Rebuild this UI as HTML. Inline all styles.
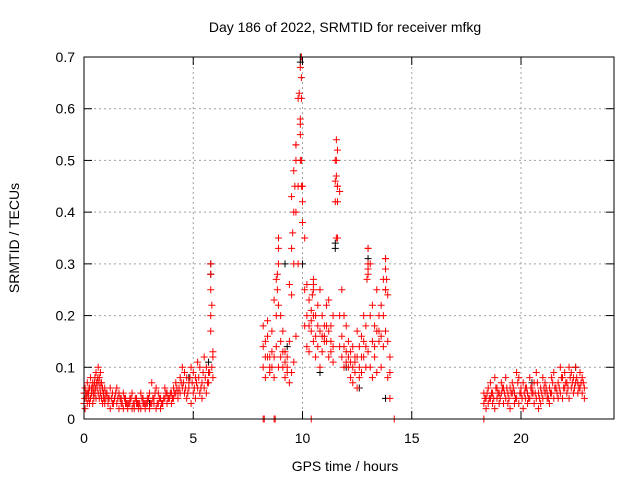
<!DOCTYPE html>
<html><head><meta charset="utf-8"><style>
body{margin:0;background:#fff}
svg{display:block;font-family:"Liberation Sans",sans-serif}
</style></head><body>
<svg id="chart" width="640" height="480">
<rect width="640" height="480" fill="#fff"/>
<text x="345" y="32" font-size="14" text-anchor="middle">Day 186 of 2022, SRMTID for receiver mfkg</text>
<text x="345" y="471" font-size="14" text-anchor="middle">GPS time / hours</text>
<text transform="translate(19,238) rotate(-90)" font-size="14" text-anchor="middle">SRMTID / TECUs</text>
<g id="grid"></g>
<g id="ticks"></g>
<g id="black"></g>
<g id="red"></g>
<rect x="84" y="57" width="530" height="362" fill="none" stroke="#000" stroke-width="1"/>
</svg>
<script>
const xTicks=[0,5,10,15,20];
const yTicks=[0,0.1,0.2,0.3,0.4,0.5,0.6,0.7];
const yTickLabels=["0","0.1","0.2","0.3","0.4","0.5","0.6","0.7"];
const segA_t=[0,0.05,0.1,0.15,0.2,0.25,0.3,0.35,0.4,0.45,0.5,0.55,0.6,0.65,0.7,0.75,0.8,0.85,0.9,0.95,1.0,1.1,1.2,1.3,1.4,1.5,1.6,1.7,1.8,1.9,2.0,2.1,2.2,2.3,2.4,2.5,2.6,2.7,2.8,2.9,3.0,3.1,3.2,3.3,3.4,3.5,3.6,3.7,3.8,3.9,4.0,4.1,4.2,4.3,4.4,4.5,4.6,4.7,4.8,4.9,5.0,5.1,5.2,5.3,5.4,5.5,5.6,5.7,5.8,5.9];
const segA_hi=[.05,.06,.04,.07,.05,.06,.08,.05,.07,.06,.08,.09,.07,.1,.08,.09,.07,.06,.05,.06,.05,.04,.06,.05,.04,.06,.05,.04,.05,.04,.03,.04,.05,.03,.04,.03,.05,.04,.03,.04,.05,.07,.04,.06,.05,.04,.03,.06,.05,.04,.05,.06,.07,.05,.08,.1,.09,.08,.07,.1,.09,.08,.11,.1,.07,.12,.1,.09,.3,.13];
const segA_lo=[.03,.02,.04,.03,.04,.03,.04,.05,.03,.04,.05,.04,.06,.05,.04,.05,.04,.03,.04,.03,.04,.03,.02,.03,.04,.03,.02,.03,.02,.03,.02,.03,.02,.02,.03,.02,.02,.03,.02,.03,.02,.03,.03,.02,.03,.02,.03,.04,.03,.04,.03,.04,.05,.04,.05,.06,.05,.04,.06,.03,.05,.04,.06,.05,.04,.06,.05,.07,.28,.08];
const segA_t2=[0.03,0.08,0.13,0.18,0.23,0.28,0.33,0.38,0.43,0.48,0.53,0.58,0.63,0.68,0.73,0.78,0.83,0.88,0.93,1.05,1.15,1.25,1.35,1.45,1.55,1.65,1.75,1.85,1.95,2.05,2.15,2.25,2.35,2.45,2.55,2.65,2.75,2.85,2.95,3.05,3.15,3.25,3.35,3.45,3.55,3.65,3.75,3.85,3.95,4.05,4.15,4.25,4.35,4.45,4.55,4.65,4.75,4.85,4.95,5.05,5.15,5.25,5.35,5.45,5.55,5.65,5.75,5.85];
const segA_mid=[.04,.05,.05,.05,.06,.04,.06,.06,.05,.07,.06,.07,.08,.07,.06,.07,.06,.05,.04,.05,.04,.04,.03,.05,.04,.04,.03,.04,.03,.03,.04,.03,.04,.03,.03,.04,.03,.03,.04,.03,.04,.05,.03,.04,.03,.04,.05,.04,.05,.04,.05,.06,.06,.07,.07,.06,.05,.08,.07,.06,.07,.08,.06,.09,.08,.07,.09,.1];
const segB_t=[8.2,8.3,8.4,8.5,8.6,8.7,8.8,8.9,9.0,9.1,9.2,9.3,9.4,9.5,9.6,9.7,9.8,9.9,10.0,10.1,10.2,10.3,10.4,10.5,10.6,10.7,10.8,10.9,11.0,11.1,11.2,11.3,11.4,11.5,11.6,11.7,11.8,11.9,12.0,12.1,12.2,12.3,12.4,12.5,12.6,12.7,12.8,12.9,13.0,13.1,13.2,13.3,13.4,13.5,13.6,13.7,13.8,13.9,14.0];
const segB_hi=[.18,.15,.19,.12,.17,.23,.27,.35,.2,.17,.13,.12,.26,.43,.48,.53,.62,.68,.45,.35,.26,.23,.21,.25,.2,.22,.25,.2,.18,.22,.23,.18,.2,.5,.52,.44,.25,.2,.18,.15,.13,.14,.12,.17,.14,.16,.2,.18,.33,.3,.22,.18,.25,.2,.22,.27,.31,.24,.12];
const segB_lo=[.1,.08,.12,.09,.1,.08,.14,.1,.12,.1,.08,.09,.07,.09,.11,.16,.3,.5,.38,.18,.14,.13,.17,.15,.12,.14,.1,.13,.15,.15,.12,.13,.11,.42,.35,.14,.12,.1,.11,.1,.08,.07,.11,.06,.08,.09,.12,.1,.13,.1,.08,.12,.09,.15,.1,.14,.17,.08,.04];
const segB_mid=[.14,.12,.16,.1,.13,.12,.2,.22,.15,.13,.11,.1,.15,.24,.3,.4,.45,.58,.42,.25,.2,.18,.19,.2,.16,.18,.17,.16,.16,.18,.17,.15,.14,.46,.45,.2,.16,.14,.13,.12,.11,.1,.09,.12,.1,.12,.15,.14,.28,.2,.15,.14,.17,.17,.16,.2,.25,.15,.09];
const spike_t=[9.95,9.95,9.95,9.9,9.9,9.85,9.95,9.95,9.7,9.7,9.65,11.55,11.55,11.55,11.6,11.6,11.55,13,13,13,12.95,13.8,13.8,13.85,13.8,8.9,8.9,8.85,8.85,10.5,10.5,10.45,5.8,5.8,5.8,5.85,5.9,9.6,9.55,9.5];
const spike_v=[.7,.66,.62,.57,.55,.63,.5,.45,.53,.5,.45,.54,.5,.47,.45,.42,.35,.33,.3,.29,.27,.31,.29,.27,.25,.33,.3,.28,.25,.27,.26,.24,.25,.2,.17,.22,.12,.4,.36,.33];
const segC_t=[18.3,18.4,18.5,18.6,18.7,18.8,18.9,19.0,19.1,19.2,19.3,19.4,19.5,19.6,19.7,19.8,19.9,20.0,20.1,20.2,20.3,20.4,20.5,20.6,20.7,20.8,20.9,21.0,21.1,21.2,21.3,21.4,21.5,21.6,21.7,21.8,21.9,22.0,22.1,22.2,22.3,22.4,22.5,22.6,22.7,22.8,22.9];
const segC_hi=[.05,.04,.06,.07,.05,.08,.06,.05,.07,.06,.08,.05,.06,.07,.05,.09,.08,.06,.07,.06,.05,.08,.06,.07,.09,.05,.06,.08,.07,.05,.06,.08,.09,.06,.07,.1,.08,.09,.07,.1,.09,.08,.1,.07,.09,.08,.06];
const segC_lo=[.03,.02,.03,.04,.03,.02,.04,.03,.05,.03,.04,.03,.02,.05,.03,.04,.03,.05,.02,.04,.03,.04,.05,.03,.04,.02,.03,.04,.05,.04,.03,.05,.04,.06,.04,.05,.04,.06,.05,.04,.06,.05,.07,.05,.06,.05,.04];
const segC_t2=[18.35,18.45,18.55,18.65,18.75,18.85,18.95,19.05,19.15,19.25,19.35,19.45,19.55,19.65,19.75,19.85,19.95,20.05,20.15,20.25,20.35,20.45,20.55,20.65,20.75,20.85,20.95,21.05,21.15,21.25,21.35,21.45,21.55,21.65,21.75,21.85,21.95,22.05,22.15,22.25,22.35,22.45,22.55,22.65,22.75,22.85];
const segC_mid=[.04,.05,.04,.05,.04,.06,.05,.04,.06,.05,.06,.04,.05,.06,.04,.07,.05,.04,.05,.06,.04,.06,.05,.05,.07,.04,.05,.06,.06,.04,.05,.07,.06,.05,.06,.08,.06,.07,.06,.08,.07,.06,.08,.06,.07,.07];
const zero_t=[8.2,8.25,8.7,8.75,10.4,14.2,18.3];
const black_t=[5.8,5.8,9.9,9.9,11.5,11.5,13,9.2,13.8,10,9.3,12,5.7,20.5,22.5,0.2,3,4.8,10.8,12.6];
const black_v=[.3,.28,.69,.7,.34,.33,.31,.3,.04,.3,.14,.1,.11,.07,.1,.05,.03,.08,.09,.06];

const X0=84,X1=614,Y0=419,Y1=57;
const xs=t=>X0+t*(521-84)/20;
const ys=v=>Y0-v*(Y0-Y1)/0.7;
const NS="http://www.w3.org/2000/svg";
function mk(tag,attrs,parent){const e=document.createElementNS(NS,tag);for(const k in attrs)e.setAttribute(k,attrs[k]);parent.appendChild(e);return e;}
const grid=document.getElementById('grid'),ticks=document.getElementById('ticks');
yTicks.forEach((v,i)=>{const y=ys(v);
 if(i>0&&i<yTicks.length-1){const l=mk('line',{x1:X0,x2:X1,y1:y,y2:y,stroke:'#a0a0a0','stroke-dasharray':'2,3'},grid);
 
 }
 mk('line',{x1:X0,x2:X0+8,y1:y,y2:y,stroke:'#000'},ticks);
 mk('line',{x1:X1,x2:X1-8,y1:y,y2:y,stroke:'#000'},ticks);
 const t=mk('text',{x:X0-9,y:y+5,'font-size':14,'text-anchor':'end'},ticks);t.textContent=yTickLabels[i];
 
 
});
xTicks.forEach((v,i)=>{const x=xs(v);
 if(i>0){const l=mk('line',{x1:x,x2:x,y1:Y0,y2:Y1,stroke:'#a0a0a0','stroke-dasharray':'2,3'},grid);
 
 }
 mk('line',{x1:x,x2:x,y1:Y0,y2:Y0-8,stroke:'#000'},ticks);
 mk('line',{x1:x,x2:x,y1:Y1,y2:Y1+8,stroke:'#000'},ticks);
 const t=mk('text',{x:x,y:Y0+24,'font-size':14,'text-anchor':'middle'},ticks);t.textContent=String(v);
 
 
});
function plus(g,t,v,col){const x=xs(t),y=ys(v);
 const p=mk('path',{d:`M${x-3.5},${y}h7M${x},${y-3.5}v7`,stroke:col,'stroke-width':1,fill:'none'},g);
 
 }
function series(g,T,V,col){const n=Math.min(T.length,V.length);for(let i=0;i<n;i++)plus(g,T[i],V[i],col);}
const bg=document.getElementById('black'),rg=document.getElementById('red');
series(bg,black_t,black_v,'#000');
series(rg,segA_t,segA_hi,'#f00');series(rg,segA_t,segA_lo,'#f00');series(rg,segA_t2,segA_mid,'#f00');
series(rg,segB_t,segB_hi,'#f00');series(rg,segB_t,segB_lo,'#f00');series(rg,segB_t,segB_mid,'#f00');
series(rg,spike_t,spike_v,'#f00');
series(rg,segC_t,segC_hi,'#f00');series(rg,segC_t,segC_lo,'#f00');series(rg,segC_t2,segC_mid,'#f00');
series(rg,zero_t,zero_t.map(()=>0),'#f00');
</script>
</body></html>
